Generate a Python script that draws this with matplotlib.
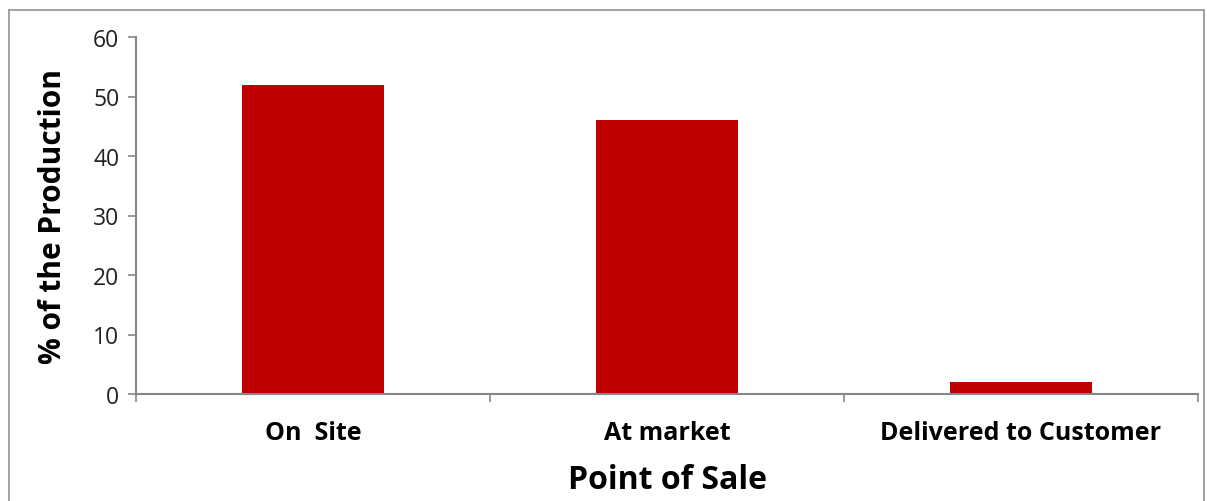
import matplotlib
matplotlib.use("Agg")
import matplotlib.pyplot as plt
from matplotlib.lines import Line2D

categories = ["On  Site", "At market", "Delivered to Customer"]
values = [52, 46, 2]
yticks = [0, 10, 20, 30, 40, 50, 60]

plt.rcParams['font.family'] = ['Open Sans', 'DejaVu Sans']

W, H = 1207, 502
fig = plt.figure(figsize=(W / 100, H / 100), dpi=100)
ax = fig.add_axes([136 / W, 1 - 395 / H, (1198 - 136) / W, (395 - 38) / H])

gray = "#868686"
x = list(range(len(categories)))
ax.bar(x, values, width=0.40, color="#C00000", zorder=2)

ax.set_xlim(-0.5, len(categories) - 0.5)
ax.set_ylim(0, 60)
ax.set_yticks(yticks)
ax.set_yticklabels([str(v) for v in yticks], fontsize=16.5, color="#222222")
ax.set_xticks(x)
ax.set_xticklabels(categories, fontsize=18, fontweight="bold", color="black")
ax.tick_params(axis="x", length=0, pad=19)
ax.tick_params(axis="y", length=6, width=1.2, color=gray, pad=6)

# category boundary ticks on the x axis
ax.set_xticks([-0.5, 0.5, 1.5, 2.5], minor=True)
ax.tick_params(axis="x", which="minor", length=6, width=1.2, color=gray, direction="out")

for s in ["top", "right"]:
    ax.spines[s].set_visible(False)
for s in ["left", "bottom"]:
    ax.spines[s].set_color(gray)
    ax.spines[s].set_linewidth(1.5)

ax.set_xlabel("Point of Sale", fontsize=23, fontweight="bold", labelpad=13)
ax.set_ylabel("% of the Production", fontsize=21.5, fontweight="bold", labelpad=18)

# outer chart-area frame
fx0, fx1, fy0 = 9 / W, 1204 / W, 1 - 11 / H
for xs, ys in [([fx0, fx0], [-0.1, fy0]), ([fx0, fx1], [fy0, fy0]), ([fx1, fx1], [fy0, -0.1])]:
    fig.add_artist(Line2D(xs, ys, transform=fig.transFigure, color="#9a9a9a", linewidth=1.3))

fig.savefig("out.png", dpi=100)
